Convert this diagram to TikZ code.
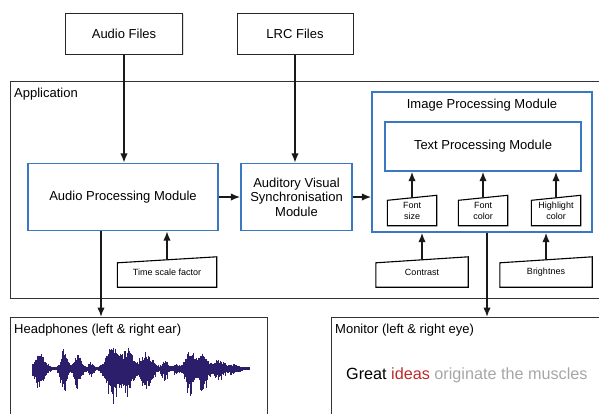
\documentclass[tikz,border=0pt]{standalone}
\usepackage{fontspec}
\setmainfont{Liberation Sans}
\usetikzlibrary{arrows.meta,calc,shadows}
\definecolor{modblue}{HTML}{3A78C2}
\definecolor{wavec}{HTML}{2D1E6B}
\definecolor{idred}{HTML}{C0282A}
\definecolor{grayt}{HTML}{A6A6A6}
\definecolor{framec}{HTML}{333333}
\begin{document}
\begin{tikzpicture}[x=1pt,y=-1pt,
 box/.style={draw=black!85, line width=1pt, inner sep=0pt, align=center, font=\fontsize{13}{15}\selectfont, fill=white, drop shadow={shadow xshift=1.2pt,shadow yshift=-1.2pt,opacity=0.25}},
 mod/.style={draw=modblue, line width=1.4pt, inner sep=0pt, align=center, font=\fontsize{13}{14.5}\selectfont},
 param/.style={inner sep=0pt, align=center, font=\fontsize{9}{11}\selectfont},
 trap/.style={draw=black, line width=1.1pt, line join=miter},
 arr/.style={draw=black!90, line width=1.6pt, -{Latex[length=9.5pt,width=7.5pt]}},
 frame/.style={draw=framec, line width=1pt},
 lbl/.style={anchor=north west, inner sep=0pt, font=\fontsize{13}{15}\selectfont},
 wave/.style={draw=wavec, line width=1pt},
]
\useasboundingbox (0,0) rectangle (599,413);
\clip (0,0) rectangle (599,413);

% frames
\node[frame, draw, minimum width=620, minimum height=217, inner sep=0pt] (app) at (320,189.5) {};
\node[lbl] (applbl) at (14,87.5) {Application};
\node[frame, draw, minimum width=257, minimum height=120, inner sep=0pt] (hp) at (138.5,377) {};
\node[lbl] (hplbl) at (14,323.5) {Headphones (left \& right ear)};
\node[frame, draw, minimum width=300, minimum height=120, inner sep=0pt] (mon) at (481,377) {};
\node[lbl] (monlbl) at (335,323.5) {Monitor (left \& right eye)};
\node[anchor=west, inner sep=0pt, font=\fontsize{16.2}{18}\selectfont] (great) at (346,375)
  {Great \textcolor{idred}{ideas} \textcolor{grayt}{originate the muscles}};

% input files
\node[box, minimum width=117, minimum height=41] (af) at (124,33.5) {Audio Files};
\node[box, minimum width=116, minimum height=41] (lrc) at (295,33.5) {LRC Files};

% modules
\node[mod, minimum width=190, minimum height=67] (apm) at (123,197) {Audio Processing Module};
\node[mod, minimum width=111, minimum height=67] (avs) at (296.5,197) {Auditory Visual\\Synchronisation\\Module};
\node[mod, minimum width=220, minimum height=140] (ipm) at (482,162) {};
\node[inner sep=0pt, font=\fontsize{13}{15}\selectfont] (ipmlbl) at (482,105) {Image Processing Module};
\node[mod, minimum width=196, minimum height=49] (tpm) at (483,146.5) {Text Processing Module};

% parameters (manual input shapes)
\node[param, minimum width=49, minimum height=30] (fs) at (412,210.5) {Font\\size};
\node[param, minimum width=49, minimum height=30] (fc) at (483,210.5) {Font\\color};
\node[param, minimum width=49, minimum height=30] (hc) at (556,210.5) {Highlight\\color};
\node[param, minimum width=99, minimum height=30] (tsf) at (167,272) {Time scale factor};
\node[param, minimum width=92, minimum height=30] (con) at (422,272) {Contrast};
\node[param, minimum width=92, minimum height=30] (bri) at (546,272) {Brightnes};
\foreach \n/\d in {fs/5,fc/5,hc/5,tsf/6,con/6,bri/6}{
  \draw[trap] (\n.south west) -- (\n.south east) -- (\n.north east) -- ($(\n.north west)+(0,\d)$) -- cycle;
}

% connectors
\coordinate (hpin) at (101,317);
\coordinate (monin) at (487,317);
\draw[arr] (af.south) -- (af.south |- apm.north);
\draw[arr] (lrc.south) -- (lrc.south |- avs.north);
\draw[arr] (apm.east) -- (avs.west);
\draw[arr] (avs.east) -- (avs.east -| ipm.west);
\draw[arr] ($(fs.north)+(0,2.5)$) -- (fs.north |- tpm.south);
\draw[arr] ($(fc.north)+(0,2.5)$) -- (fc.north |- tpm.south);
\draw[arr] ($(hc.north)+(0,2.5)$) -- (hc.north |- tpm.south);
\draw[arr] ($(tsf.north)+(0,3)$) -- (tsf.north |- apm.south);
\draw[arr] ($(con.north)+(0,3)$) -- (con.north |- ipm.south);
\draw[arr] ($(bri.north)+(0,3)$) -- (bri.north |- ipm.south);
\draw[arr] (apm.south -| hpin) -- (hpin);
\draw[arr] (ipm.south -| monin) -- (monin);

% waveform
\pgfmathsetseed{11}
\foreach \x in {32,32.7,...,250}{
  \pgfmathsetmacro\env{1.8
    +18*exp(-min(((\x-40)/7)^2,15))
    +25*exp(-min(((\x-64)/4)^2,15))
    +16*exp(-min(((\x-78)/5)^2,15))
    +7*exp(-min(((\x-91)/3)^2,15))
    +30*exp(-min(((\x-113)/8)^2,15))
    +24*exp(-min(((\x-128)/6)^2,15))
    +20*exp(-min(((\x-146)/8)^2,15))
    +9*exp(-min(((\x-165)/4)^2,15))
    +5*exp(-min(((\x-176)/3)^2,15))
    +22*exp(-min(((\x-190)/6)^2,15))
    +19*exp(-min(((\x-203)/6)^2,15))
    +10*exp(-min(((\x-219)/7)^2,15))
    +4*exp(-min(((\x-234)/6)^2,15))}
  \pgfmathsetmacro\ra{rnd}
  \pgfmathsetmacro\rb{rnd}
  \pgfmathsetmacro\up{\env*(0.55+0.45*\ra)*0.78}
  \pgfmathsetmacro\dn{\env*(0.5+0.5*\rb*\rb)*1.2}
  \draw[wave] (\x,368.5-\up) -- (\x,368.5+\dn);
}
\end{tikzpicture}
\end{document}
